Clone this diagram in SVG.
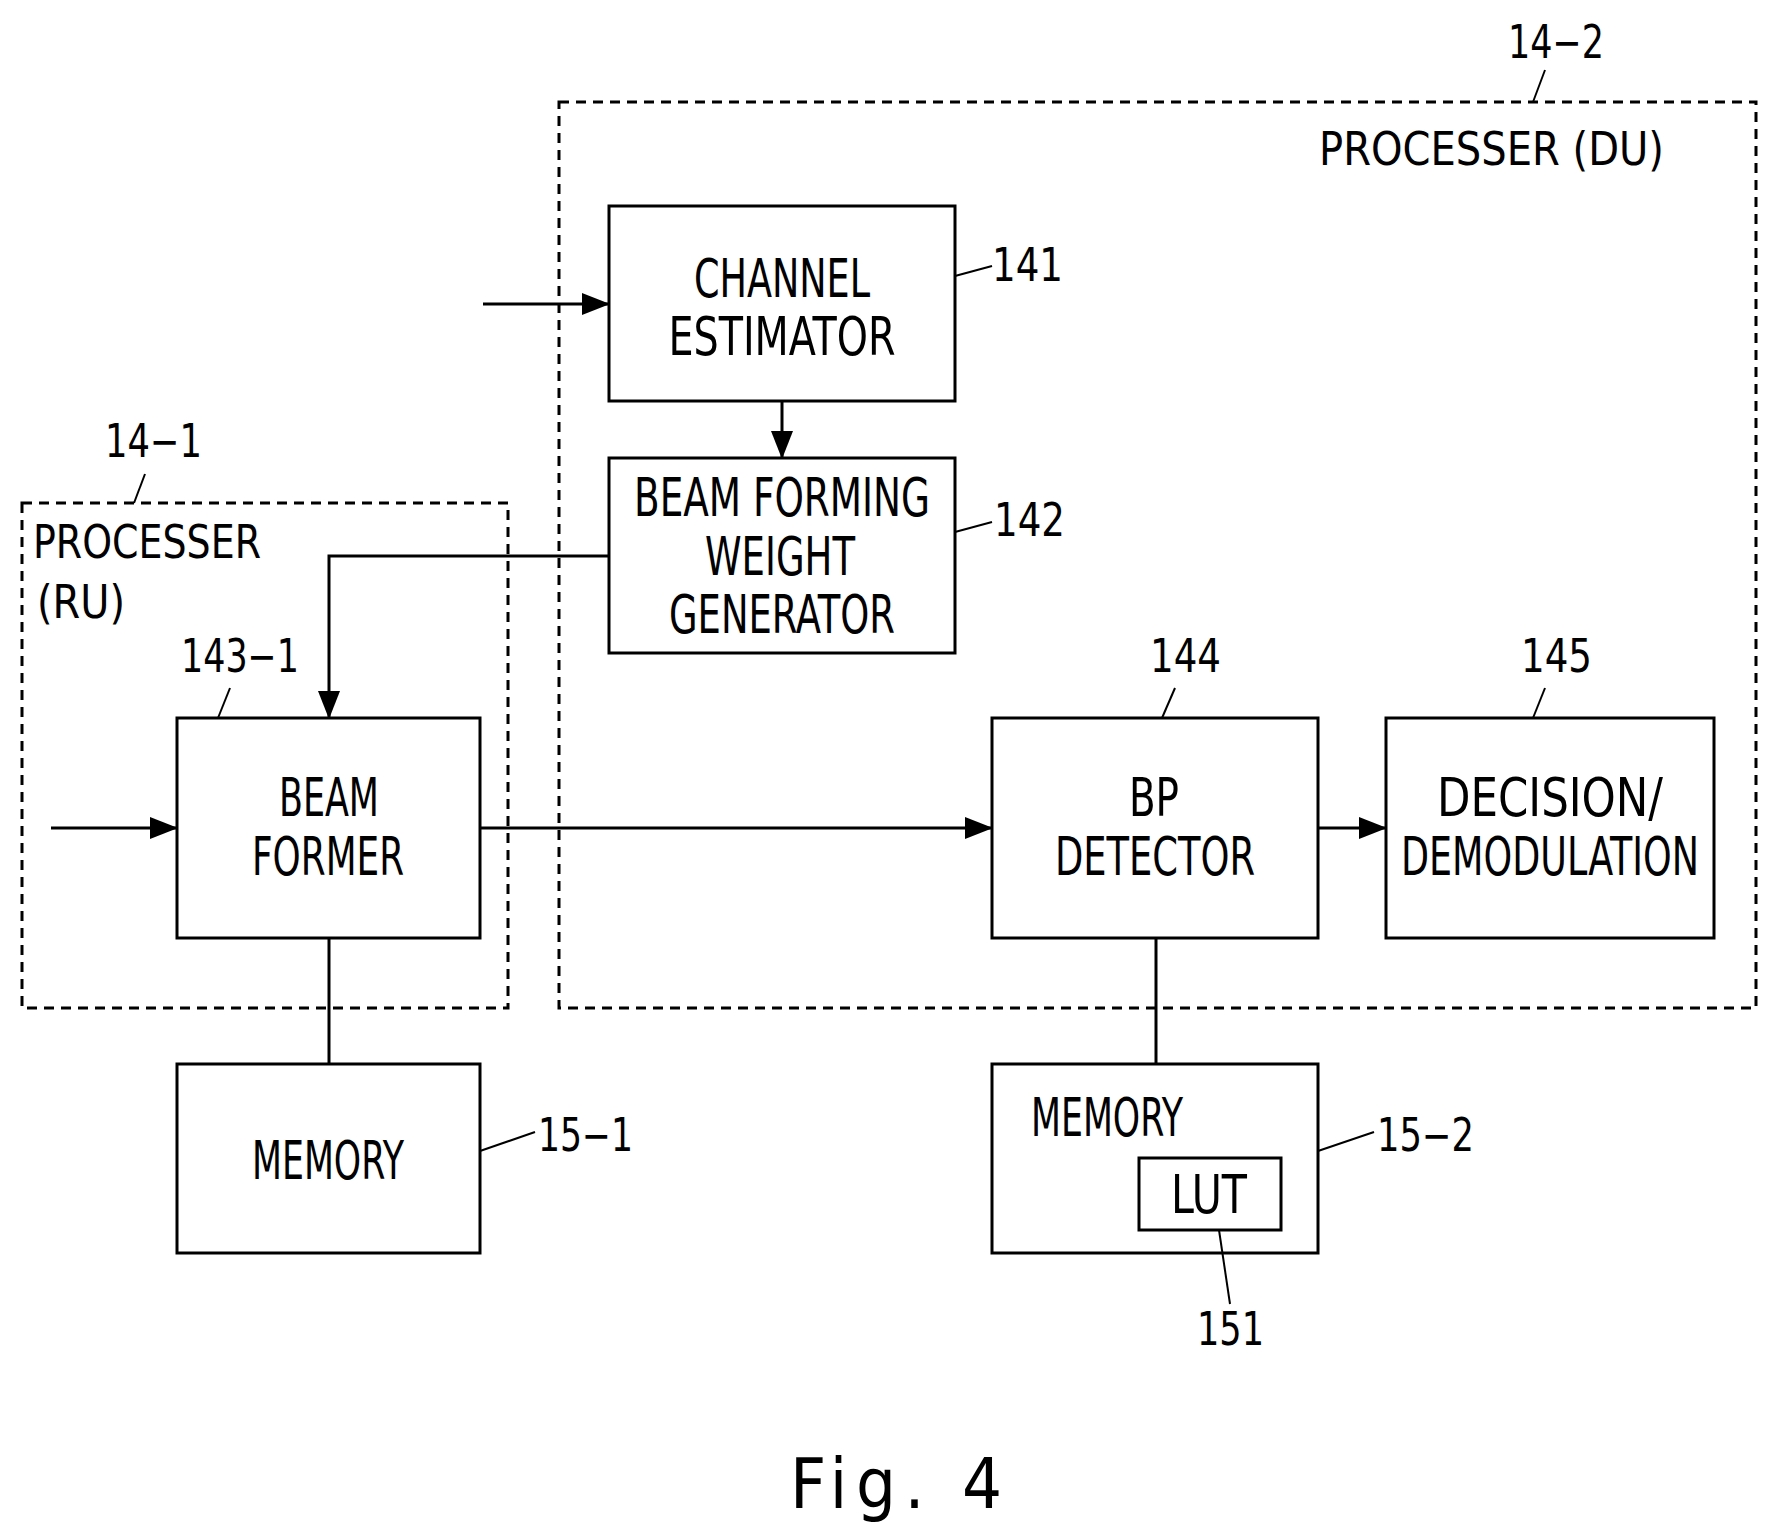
<svg xmlns="http://www.w3.org/2000/svg" width="1770" height="1528" viewBox="0 0 1770 1528">
<style>
.b{fill:none;stroke:#000;stroke-width:3}
.d{fill:none;stroke:#000;stroke-width:3;stroke-dasharray:10,7}
.l{fill:none;stroke:#000;stroke-width:2}
text{font-family:"DejaVu Sans Condensed","Liberation Sans",sans-serif;fill:#000}
.t{font-size:54px;text-anchor:middle}
.n{font-size:46px}
</style>
<defs>
<marker id="A" markerWidth="28" markerHeight="22" refX="27" refY="11" orient="auto" markerUnits="userSpaceOnUse" viewBox="0 0 28 22"><path d="M0,0L28,11L0,22z"/></marker></defs>
<rect id="du" class="d" x="559" y="102" width="1197" height="906"/>
<rect id="ru" class="d" x="22" y="503" width="486" height="505"/>
<g id="labels">
<text class="n" x="1508" y="58" textLength="96" lengthAdjust="spacingAndGlyphs">14−2</text>
<path class="l" d="M1545,70L1533,102"/>
<text class="n" x="1319" y="165" textLength="345" lengthAdjust="spacingAndGlyphs">PROCESSER (DU)</text>
<text class="n" x="105" y="457" textLength="97" lengthAdjust="spacingAndGlyphs">14−1</text>
<path class="l" d="M145,474L134,503"/>
<text class="n" x="33" y="558" textLength="228" lengthAdjust="spacingAndGlyphs">PROCESSER</text>
<text class="n" x="37" y="618" textLength="88" lengthAdjust="spacingAndGlyphs">(RU)</text>
</g>
<g id="ce"><rect class="b" x="609" y="206" width="346" height="195"/>
<text class="t" x="782" y="297" textLength="176" lengthAdjust="spacingAndGlyphs">CHANNEL</text>
<text class="t" x="782" y="355" textLength="227" lengthAdjust="spacingAndGlyphs">ESTIMATOR</text>
<path class="l" d="M955,276L992,266"/><text class="n" x="992" y="281" textLength="71" lengthAdjust="spacingAndGlyphs">141</text></g>
<g id="bfwg"><rect class="b" x="609" y="458" width="346" height="195"/>
<text class="t" x="782" y="516" textLength="296" lengthAdjust="spacingAndGlyphs">BEAM FORMING</text>
<text class="t" x="780" y="575" textLength="150" lengthAdjust="spacingAndGlyphs">WEIGHT</text>
<text class="t" x="782" y="633" textLength="226" lengthAdjust="spacingAndGlyphs">GENERATOR</text>
<path class="l" d="M955,532L992,522"/><text class="n" x="994" y="536" textLength="71" lengthAdjust="spacingAndGlyphs">142</text></g>
<g id="bf"><rect class="b" x="177" y="718" width="303" height="220"/>
<text class="t" x="329" y="816" textLength="100" lengthAdjust="spacingAndGlyphs">BEAM</text>
<text class="t" x="328" y="875" textLength="152" lengthAdjust="spacingAndGlyphs">FORMER</text>
<path class="l" d="M230,688L218,718"/><text class="n" x="181" y="672" textLength="118" lengthAdjust="spacingAndGlyphs">143−1</text></g>
<g id="bp"><rect class="b" x="992" y="718" width="326" height="220"/>
<text class="t" x="1154" y="816" textLength="50" lengthAdjust="spacingAndGlyphs">BP</text>
<text class="t" x="1155" y="875" textLength="200" lengthAdjust="spacingAndGlyphs">DETECTOR</text>
<path class="l" d="M1175,688L1162,718"/><text class="n" x="1150" y="672" textLength="71" lengthAdjust="spacingAndGlyphs">144</text></g>
<g id="dec"><rect class="b" x="1386" y="718" width="328" height="220"/>
<text class="t" x="1550" y="816" textLength="226" lengthAdjust="spacingAndGlyphs">DECISION/</text>
<text class="t" x="1550" y="875" textLength="298" lengthAdjust="spacingAndGlyphs">DEMODULATION</text>
<path class="l" d="M1545,688L1533,718"/><text class="n" x="1521" y="672" textLength="71" lengthAdjust="spacingAndGlyphs">145</text></g>
<g id="m1"><rect class="b" x="177" y="1064" width="303" height="189"/>
<text class="t" x="328" y="1179" textLength="152" lengthAdjust="spacingAndGlyphs">MEMORY</text>
<path class="l" d="M480,1151L535,1132"/><text class="n" x="538" y="1151" textLength="95" lengthAdjust="spacingAndGlyphs">15−1</text></g>
<g id="m2"><rect class="b" x="992" y="1064" width="326" height="189"/>
<text class="t" x="1107" y="1136" textLength="152" lengthAdjust="spacingAndGlyphs">MEMORY</text>
<path class="l" d="M1318,1151L1374,1132"/><text class="n" x="1377" y="1151" textLength="97" lengthAdjust="spacingAndGlyphs">15−2</text></g>
<g id="lut"><rect class="b" x="1139" y="1158" width="142" height="72"/>
<text class="t" x="1209" y="1213" textLength="76" lengthAdjust="spacingAndGlyphs">LUT</text>
<path class="l" d="M1219,1230L1230,1304"/><text class="n" x="1197" y="1345" textLength="67" lengthAdjust="spacingAndGlyphs">151</text></g>
<g id="connectors">
<path class="b" d="M483,304H609" marker-end="url(#A)"/>
<path class="b" d="M782,401V458" marker-end="url(#A)"/>
<path class="b" d="M609,556H329V718" marker-end="url(#A)"/>
<path class="b" d="M51,828H177" marker-end="url(#A)"/>
<path class="b" d="M480,828H992" marker-end="url(#A)"/>
<path class="b" d="M1318,828H1386" marker-end="url(#A)"/>
<path class="b" d="M329,938V1064"/>
<path class="b" d="M1156,938V1064"/>
</g>
<text x="790" y="1508" style="font-size:70px" textLength="212" lengthAdjust="spacing">Fig. 4</text>
</svg>
